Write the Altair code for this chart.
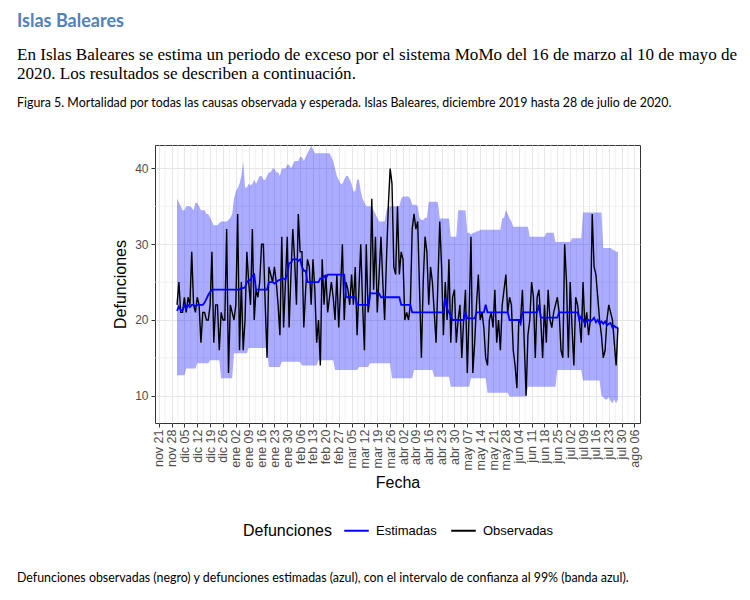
import altair as alt
import pandas as pd

# ---------------- data (daily, 2019-12-01 .. 2020-07-28) ----------------
fecha_inicio = "2019-12-01"

observadas = [
    22, 25, 21, 21, 23, 21, 23, 22, 29, 22,
    21, 23, 22, 17, 21, 21, 20, 20, 22, 29,
    17, 22, 22, 16, 21, 20, 20, 32, 13, 22,
    21, 20, 22, 34, 16, 25, 16, 20, 29, 25,
    22, 32, 20, 24, 23, 25, 30, 30, 22, 15,
    27, 26, 25, 27, 25, 22, 18, 31, 19, 25,
    31, 19, 26, 32, 28, 22, 34, 29, 29, 19,
    24, 28, 27, 22, 28, 24, 17, 20, 14, 28,
    22, 26, 21, 23, 25, 23, 20, 26, 19, 24,
    30, 20, 25, 24, 22, 26, 22, 27, 18, 24,
    30, 22, 16, 30, 21, 23, 36, 24, 31, 21,
    26, 31, 25, 20, 28, 35, 40, 38, 27, 26,
    35, 26, 29, 28, 20, 21, 20, 22, 32, 34,
    32, 33, 24, 15, 25, 31, 29, 22, 27, 25,
    21, 17, 25, 33, 27, 18, 25, 20, 28, 17,
    23, 24, 17, 20, 22, 15, 20, 24, 13, 21,
    31, 13, 17, 22, 26, 20, 21, 19, 15, 14,
    20, 21, 19, 24, 17, 20, 16, 22, 24, 26,
    21, 23, 22, 16, 14, 11, 20, 20, 24, 17,
    10, 18, 20, 25, 23, 15, 23, 24, 20, 15,
    22, 17, 24, 20, 19, 21, 22, 23, 21, 16,
    15, 30, 25, 15, 25, 19, 14, 23, 22, 20,
    17, 25, 19, 21, 18, 20, 34, 27, 26, 23,
    20, 18, 15, 16, 20, 22, 21, 20, 17, 14, 19,
]

estimadas = [
    21.2, 21.8, 21.3, 21.3, 21.9, 21.5, 22, 21.7, 22, 22, 21.8, 22, 22, 22, 22,
    22.3, 22.8, 23.3, 23.7, 24, 24, 24, 24,
    24, 24, 24, 24, 24, 24, 24, 24, 24, 24, 24, 24, 24.2, 24.2, 24.3,
    25, 25.2, 25.3, 25.8, 26,
    24, 24, 24, 24, 24, 24, 24,
    25, 25, 25, 24.8, 25, 25.2, 25.3, 25.5, 25.5, 25.3, 26,
    27.5, 27.5, 28, 28, 28, 27.8, 28, 27,
    26.5, 26.5,
    25, 25, 25, 25, 25, 25, 25,
    25.5, 25.5, 25.8, 25.5, 26,
    26, 26, 26, 26, 26, 26, 26, 26, 26,
    23, 23, 23, 23, 23, 23,
    22, 22, 22, 22, 22, 22, 22,
    23.5, 23.5, 23.5, 23.5, 23.5, 23.5,
    23, 23, 23, 23, 23, 23, 23, 23, 23, 23, 23,
    22, 22, 22, 22, 22, 22,
    21, 21, 21, 21, 21, 21, 21, 21, 21, 21, 21, 21, 21, 21, 21, 21, 21, 21,
    23,
    21.5, 21, 20.5,
    20, 20, 20, 20, 20, 20, 20,
    21,
    20.2, 20.2, 20.2, 20.2, 20.2,
    21, 21, 21, 21, 21, 22, 21, 21, 21, 21, 21, 21, 21, 21, 21, 21, 21, 21,
    20, 20, 20, 20, 20, 20,
    19.5,
    21, 21, 21, 21, 21, 21, 21, 21, 21,
    22,
    20.3, 20.3, 20.3, 20.3, 20.3, 20.3, 20.3, 20.3, 20.3, 20.3,
    21, 21, 21, 21, 21, 21, 21, 21, 21, 21, 21,
    20, 20.5, 20, 19.5, 20, 20, 19.8, 20, 20.3, 19.7, 20,
    19.5, 19.8, 19.5, 19.8, 19.3, 19.5, 19.6, 19, 19.2, 19, 19,
]

superior = [
    36, 35.5, 35, 34.5, 34.5,
    35, 35, 35, 34.8, 34.5, 35.5,
    35.4, 35, 34.5, 34.5, 34.5, 34, 34,
    33.5, 33, 32.5,
    32.5, 32.5, 32.8, 33, 33, 33, 33, 33.2, 33.5, 34, 36,
    37, 37.4, 38, 39, 41,
    37.5, 37.5, 38, 37.8, 38, 38.5, 38, 38.5, 39,
    39, 38.5, 38.5, 39, 39.5, 39.5, 40, 40,
    39.5, 39.5, 39, 40, 40, 40, 40.5, 40.5, 40, 40.5, 41,
    41, 41, 41.5, 41.5, 41, 41.5, 42, 42.5,
    43, 42.5, 42, 42, 42, 42, 42, 42, 42, 42, 42, 41.5, 41,
    40, 39, 38.5,
    38, 38, 38.5, 39, 39, 38.5, 38,
    37, 37, 38.5, 38.5,
    37, 36, 35.5, 35, 35, 35, 35, 34.5, 34, 33.5, 33, 33, 33, 33, 34.5, 35, 35, 35, 35, 35, 35,
    35, 36, 36.3, 36.3, 36.3, 36.3, 36, 35.2, 35.2, 35.2,
    35, 33.5, 33.2, 33.2, 33.5, 33.5,
    35.6, 35.6, 35.6, 35.6, 35.6, 35.5,
    33.4, 33.4, 33.4, 33.4, 33.4, 33.4,
    31, 31, 31, 31,
    34.5, 34.5, 34.5, 34.5, 34.5,
    31.5, 31.5, 31.3, 31.5, 31.5, 31.7, 31.7, 31.9,
    31.9, 31.9, 31.9, 31.9, 31.9, 31.9, 31.9, 31.9, 31.9, 31.9, 31.9,
    33.4, 33.5, 34.5, 34, 33.4, 33,
    32.3, 32.3, 32.3, 32.3, 32.3, 32.3, 32.3, 32.3, 32.3,
    31, 31, 31, 31, 31, 31, 31, 31, 31,
    31.5, 31.5, 31.5, 31.5, 31.5,
    30.3, 30.3, 30.3, 30.3, 30.3, 30.3, 30.3, 30.3, 30.3,
    30.8, 30.8, 30.8, 30.8, 30.8, 30.8,
    34.2, 34.2, 34.2, 34.2, 34.2, 34.2, 34.2, 34.2, 34.2, 34.2, 34.2,
    29.5, 29.5, 29.5, 29.5, 29.5, 29.3, 29.2, 29, 29,
]

inferior = [
    12.7, 12.7, 12.7, 12.7, 12.7,
    13.6, 13.6, 13.6, 13.6, 13.6, 13.6,
    14.3, 14.3, 14.3, 14.3, 14.3, 14.3, 14.3,
    14.7, 14.7, 14.7, 14.7, 14.7, 14.7,
    12.3, 12.3, 12.3, 12.3, 12.3, 12.3, 12.3,
    15.6, 15.6, 15.6, 15.6, 15.6, 15.6, 15.6, 15.6,
    16.3, 16.3, 16.3, 16.3, 16.3, 16.3, 16.3, 16.3, 16.3, 16.3, 16.3,
    13.8, 13.8, 13.8, 13.8, 13.8, 13.8, 13.8,
    14.5, 14.5, 14.5, 14.5, 14.5, 14.5, 14.5, 14.5, 14.5, 14.5, 14.5,
    14, 14, 14, 14, 14, 14, 14, 14, 14,
    14.7, 14.7, 14.7, 14.7, 14.7, 14.7, 14.7, 14.7, 14.7,
    13.4, 13.4, 13.4, 13.4, 13.4, 13.4, 13.4, 13.4, 13.4, 13.4, 13.4, 13.4, 13.4,
    13.8, 13.8, 13.8, 13.8, 13.8, 13.8,
    14.3, 14.3, 14.3, 14.3, 14.3, 14.3, 14.3, 14.3, 14.3, 14.3, 14.3, 14.3,
    12.3, 12.3, 12.3, 12.3, 12.3, 12.3, 12.3, 12.3, 12.3, 12.3, 12.3, 12.3,
    13.4, 13.4, 13.4, 13.4, 13.4, 13.4, 13.4, 13.4, 13.4, 13.4, 13.4,
    12.5, 12.5, 12.5, 12.5, 12.5, 12.5, 12.5, 12.5, 12.5,
    11.2, 11.2, 11.2, 11.2, 11.2, 11.2, 11.2, 11.2, 11.2, 11.2, 11.2,
    12.3, 12.3, 12.3, 12.3, 12.3, 12.3, 12.3, 12.3, 12.3,
    10.4, 10.4, 10.4, 10.4, 10.4, 10.4, 10.4, 10.4, 10.4, 10.4, 10.4, 10.4,
    9.9, 9.9, 9.9, 9.9, 9.9, 9.9, 9.9, 9.9, 9.9, 9.9,
    11.2, 11.2, 11.2, 11.2, 11.2, 11.2, 11.2, 11.2, 11.2, 11.2, 11.2, 11.2, 11.2, 11.2, 11.2, 11.2,
    13.4, 13.4, 13.4, 13.4, 13.4, 13.4, 13.4, 13.4, 13.4, 13.4, 13.4, 13.4, 13.4, 13.4,
    12, 12, 12, 12, 12, 12, 12, 12, 12, 12,
    10, 9.8, 9.5, 9.5, 9.8, 9.3, 9, 9.5, 9, 9.5,
]

# weekly tick dates and Spanish month abbreviations for the labels
tick_inicio, tick_fin = "2019-11-21", "2020-08-06"
meses = ["ene", "feb", "mar", "abr", "may", "jun", "jul", "ago", "sep", "oct", "nov", "dic"]

series = ["Estimadas", "Observadas"]
colores = ["#0000FF", "#000000"]

titulo = "Islas Baleares"
parrafo = [
    "En Islas Baleares se estima un periodo de exceso por el sistema MoMo del 16 de marzo al 10 de mayo de",
    "2020. Los resultados se describen a continuación.",
]
leyenda_figura = ("Figura 5. Mortalidad por todas las causas observada y esperada. "
                  "Islas Baleares, diciembre 2019 hasta 28 de julio de 2020.")
nota = ("Defunciones observadas (negro) y defunciones estimadas (azul), "
        "con el intervalo de confianza al 99% (banda azul).")
titulo_leyenda = "Defunciones"

# ---------------- tables ----------------
fechas = pd.date_range(fecha_inicio, periods=len(observadas), freq="D")
fstr = fechas.strftime("%Y-%m-%d")
df = pd.DataFrame({"fecha": fstr, "observadas": observadas, "estimadas": estimadas,
                   "superior": superior, "inferior": inferior})
df_obs = pd.DataFrame({"fecha": fstr, "valor": observadas, "serie": "Observadas"})
df_est = pd.DataFrame({"fecha": fstr, "valor": estimadas, "serie": "Estimadas"})

ticks = pd.date_range(tick_inicio, tick_fin, freq="7D")
tick_ms = [int(t.value // 10**6) for t in ticks]
minor = [t + pd.Timedelta(hours=84) for t in ticks[:-1]]
df_minor = pd.DataFrame({"g": [t.strftime("%Y-%m-%dT%H:%M:%SZ") for t in minor]})
df_hminor = pd.DataFrame({"h": [15, 25, 35]})

dom_x = [int(pd.Timestamp("2019-11-19").value // 10**6), int(pd.Timestamp("2020-08-09").value // 10**6)]
xscale = alt.Scale(type="utc", domain=dom_x)
yscale = alt.Scale(domain=[6.4, 43.1], nice=False, zero=False)

mes_expr = "[" + ",".join("'%s'" % m for m in meses) + "][utcmonth(datum.value)] + ' ' + utcFormat(datum.value, '%d')"

xaxis = alt.Axis(values=tick_ms, labelExpr=mes_expr, labelAngle=-90, title="Fecha",
                 grid=True, gridColor="#E6E6E6", gridWidth=1, domain=False,
                 tickSize=4, tickColor="#333333", labelColor="#4D4D4D", labelFontSize=12.5,
                 labelFont="Liberation Sans", labelPadding=2, titleFont="Liberation Sans",
                 titleFontSize=16, titleFontWeight="normal", titleColor="#000000", titlePadding=5)
yaxis = alt.Axis(values=[10, 20, 30, 40], title="Defunciones", grid=True, gridColor="#E6E6E6",
                 gridWidth=1, domain=False, tickSize=4, tickColor="#333333",
                 labelColor="#4D4D4D", labelFontSize=12, labelFont="Liberation Sans", labelPadding=3,
                 titleFont="Liberation Sans", titleFontSize=16, titleFontWeight="normal",
                 titleColor="#000000", titlePadding=6)

base = alt.Chart(df)

vminor = alt.Chart(df_minor).mark_rule(color="#E6E6E6", strokeWidth=0.6).encode(
    x=alt.X("g:T", scale=xscale, axis=xaxis))
hminor = alt.Chart(df_hminor).mark_rule(color="#E6E6E6", strokeWidth=0.6).encode(
    y=alt.Y("h:Q", scale=yscale, axis=yaxis))

banda = base.mark_area(color="#0000FF", opacity=0.33).encode(
    x=alt.X("fecha:T", scale=xscale, axis=xaxis),
    y=alt.Y("inferior:Q", scale=yscale, axis=yaxis),
    y2="superior:Q",
)

color = alt.Color("serie:N", scale=alt.Scale(domain=series, range=colores),
                  legend=alt.Legend(orient="none", legendX=188, legendY=372, direction="horizontal",
                                    title="", labelFont="Liberation Sans",
                                    labelFontSize=13, labelColor="#000000", symbolType="stroke",
                                    symbolStrokeWidth=2, symbolSize=600, columnPadding=10,
                                    labelOffset=6))

linea_obs = alt.Chart(df_obs).mark_line(strokeWidth=1.4, color="#000000").encode(
    x=alt.X("fecha:T", scale=xscale, axis=xaxis),
    y=alt.Y("valor:Q", scale=yscale, axis=yaxis),
    color=color)
linea_est = alt.Chart(df_est).mark_line(strokeWidth=1.8).encode(
    x=alt.X("fecha:T", scale=xscale, axis=xaxis),
    y=alt.Y("valor:Q", scale=yscale, axis=yaxis),
    color=color)


def texto(t, x, y, size, font, color="#000000", weight="normal"):
    return alt.Chart(pd.DataFrame({"t": [t]})).mark_text(
        align="left", baseline="middle", fontSize=size, font=font, color=color, fontWeight=weight
    ).encode(x=alt.value(x), y=alt.value(y), text="t:N")


textos = [
    texto(titulo, -138, -123, 18, "Lato", "#4F81BD", "bold"),
    texto(parrafo[0], -138, -90, 17.1, "Liberation Serif"),
    texto(parrafo[1], -138, -71, 17.1, "Liberation Serif"),
    texto(leyenda_figura, -138, -42, 12.4, "Lato"),
    texto(nota, -138, 433, 12.4, "Lato"),
    texto(titulo_leyenda, 88, 386, 16, "Liberation Sans"),
]

chart = alt.layer(vminor, hminor, banda, linea_obs, linea_est, *textos).properties(
    width=485, height=278,
    padding={"left": 147, "top": 137, "right": 100, "bottom": 170},
    autosize=alt.AutoSizeParams(type="none"),
    background="#FFFFFF",
).configure_view(stroke="#333333", strokeWidth=1)

chart.save("out.html", embed_options={"renderer": "svg", "actions": False})
